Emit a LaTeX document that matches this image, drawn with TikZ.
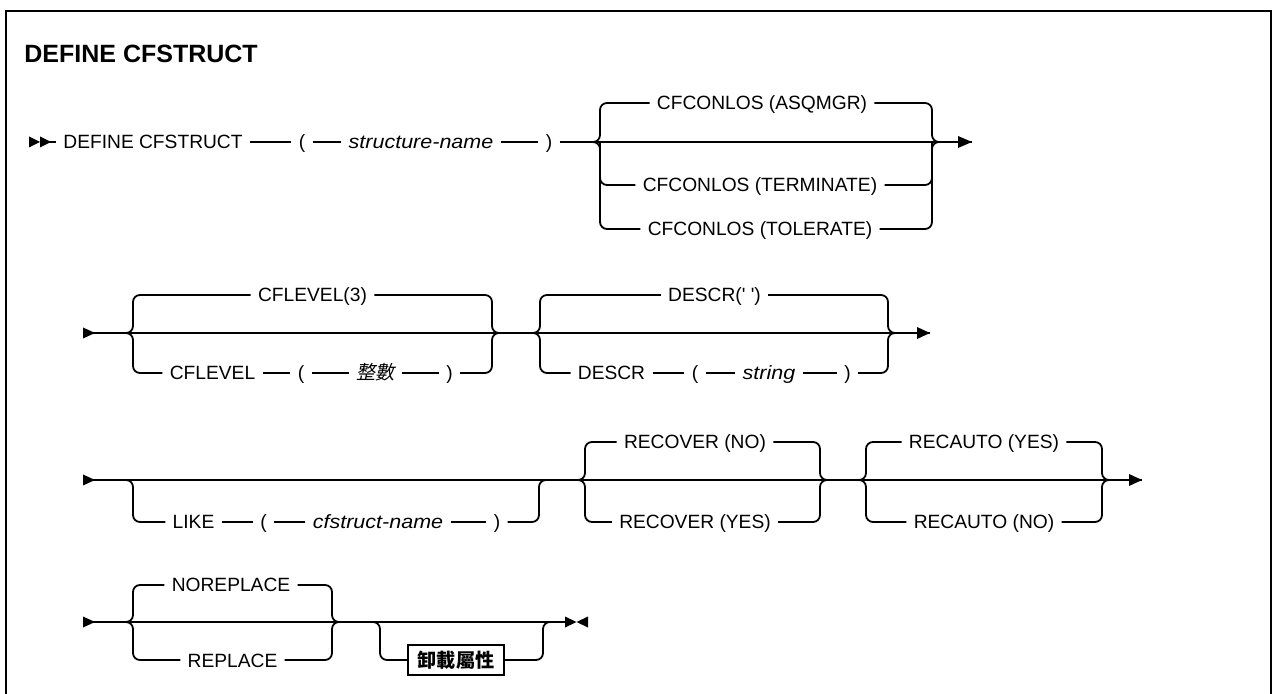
\documentclass[tikz,border=0pt]{standalone}
\usepackage{fontspec}
\setmainfont{Liberation Sans}
\newfontfamily\synfamily{Liberation Sans}[ItalicFeatures={FakeStretch=1.12}]
\newfontfamily\cjkfamily{Noto Sans CJK TC}[AutoFakeSlant=0.2]
\newcommand\synfont{\synfamily\fontsize{9.6pt}{11pt}\selectfont}
\newcommand\cjksyn{\cjkfamily\fontsize{9.6pt}{11pt}\selectfont}
\newcommand\headfont{\synfamily\bfseries\fontsize{12.5pt}{15pt}\selectfont}
\tikzset{
  syn/.style={line width=0.9pt},
  kw/.style={font=\synfont, inner xsep=3.5pt, inner ysep=0pt, text height=7pt, text depth=0pt},
  var/.style={kw, font=\synfont\itshape},
  brace/.style={syn, rounded corners=3.5pt},
  boxed/.style={draw, line width=0.8pt, font=\cjksyn\bfseries, inner xsep=2pt, inner ysep=0pt,
    minimum width=48pt, minimum height=15pt}
}
\begin{document}
\begin{tikzpicture}[x=0.5pt,y=-0.5pt]
  \useasboundingbox (0,0) rectangle (1274,694);
  % Frame
  \draw[line width=1.2pt] (6,694) |- (1271,11) -- (1271,694);
  % Title
  \node[anchor=base west, font=\headfont, inner sep=0pt] (title) at (24,63) {DEFINE CFSTRUCT};

  % Row 1
  \coordinate (r1start) at (29,142);
  \coordinate (b1l) at (600,142);
  \coordinate (b1r) at (932,142);
  \coordinate (r1end) at (972,142);
  \node[kw] (r1def) at (153,142) {DEFINE CFSTRUCT};
  \node[kw] (r1lp) at (302,142) {(};
  \node[var] (r1name) at (421,142) {structure-name};
  \node[kw] (r1rp) at (549,142) {)};
  \node[kw] (asq) at (762,103) {CFCONLOS (ASQMGR)};
  \node[kw] (term) at (760,185) {CFCONLOS (TERMINATE)};
  \node[kw] (tol) at (760,229) {CFCONLOS (TOLERATE)};
  \fill (r1start) ++(0,-5.5) -- ++(11,5.5) -- ++(-11,5.5) -- cycle;
  \fill ([xshift=5.5pt]r1start) ++(0,-5.5) -- ++(11,5.5) -- ++(-11,5.5) -- cycle;
  \draw[syn] ([xshift=5.5pt]r1start) -- (r1def);
  \draw[syn] (r1def) -- (r1lp) -- (r1name) -- (r1rp) -- ([xshift=-3.5pt]b1l) -- ([xshift=3.5pt]b1r) -- (r1end);
  \draw[brace] (asq) -| (b1l) -- ++(-7,0);
  \draw[brace] (tol) -| (b1l) -- ++(-7,0);
  \draw[brace] (term) -| (b1l);
  \draw[brace] (asq) -| (b1r) -- ++(7,0);
  \draw[brace] (tol) -| (b1r) -- ++(7,0);
  \draw[brace] (term) -| (b1r);
  \fill (r1end) -- ++(-14,-6) -- ++(0,12) -- cycle;

  % Row 2
  \coordinate (r2start) at (83,333);
  \coordinate (b2l) at (133,333);
  \coordinate (b2r) at (492,333);
  \coordinate (b3l) at (540,333);
  \coordinate (b3r) at (888,333);
  \coordinate (r2end) at (930,333);
  \node[kw] (lev3) at (312.5,295) {CFLEVEL(3)};
  \node[kw] (levkw) at (212.5,373) {CFLEVEL};
  \node[kw] (levlp) at (301,373) {(};
  \node[kw, font=\cjksyn\itshape] (levint) at (375.5,373) {整數};
  \node[kw] (levrp) at (449.5,373) {)};
  \node[kw] (descr) at (714.5,295) {DESCR(' ')};
  \node[kw] (descrkw) at (611.5,373) {DESCR};
  \node[kw] (descrlp) at (695,373) {(};
  \node[var] (descrstr) at (769,373) {string};
  \node[kw] (descrrp) at (847.5,373) {)};
  \fill (r2start) ++(0,-5.5) -- ++(12,5.5) -- ++(-12,5.5) -- cycle;
  \draw[syn] (r2start) -- ([xshift=-3.5pt]b2l) -- ([xshift=3.5pt]b2r) -- ([xshift=-3.5pt]b3l) -- ([xshift=3.5pt]b3r) -- (r2end);
  \draw[brace] (lev3) -| (b2l) -- ++(-7,0);
  \draw[brace] (levkw) -| (b2l) -- ++(-7,0);
  \draw[brace] (lev3) -| (b2r) -- ++(7,0);
  \draw[brace] (levrp) -| (b2r) -- ++(7,0);
  \draw[syn] (levkw) -- (levlp) -- (levint) -- (levrp);
  \draw[brace] (descr) -| (b3l) -- ++(-7,0);
  \draw[brace] (descrkw) -| (b3l) -- ++(-7,0);
  \draw[brace] (descr) -| (b3r) -- ++(7,0);
  \draw[brace] (descrrp) -| (b3r) -- ++(7,0);
  \draw[syn] (descrkw) -- (descrlp) -- (descrstr) -- (descrrp);
  \fill (r2end) -- ++(-13,-6) -- ++(0,12) -- cycle;

  % Row 3
  \coordinate (r3start) at (83,480);
  \coordinate (k1l) at (133,480);
  \coordinate (k1r) at (539,480);
  \coordinate (b4l) at (585,480);
  \coordinate (b4r) at (820,480);
  \coordinate (b5l) at (866,480);
  \coordinate (b5r) at (1102,480);
  \coordinate (r3end) at (1142,480);
  \node[kw] (likekw) at (193.5,522) {LIKE};
  \node[kw] (likelp) at (263.5,522) {(};
  \node[var] (likename) at (378,522) {cfstruct-name};
  \node[kw] (likerp) at (497,522) {)};
  \node[kw] (recno) at (695,442) {RECOVER (NO)};
  \node[kw] (recyes) at (695,522) {RECOVER (YES)};
  \node[kw] (rayes) at (984,442) {RECAUTO (YES)};
  \node[kw] (rano) at (984,522) {RECAUTO (NO)};
  \fill (r3start) ++(0,-5.5) -- ++(12,5.5) -- ++(-12,5.5) -- cycle;
  \draw[syn] (r3start) -- ([xshift=-3.5pt]b4l) -- ([xshift=3.5pt]b4r) -- ([xshift=-3.5pt]b5l) -- ([xshift=3.5pt]b5r) -- (r3end);
  \draw[brace] (likekw) -| (k1l) -- ++(-7,0);
  \draw[brace] (likerp) -| (k1r) -- ++(7,0);
  \draw[syn] (likekw) -- (likelp) -- (likename) -- (likerp);
  \draw[brace] (recno) -| (b4l) -- ++(-7,0);
  \draw[brace] (recyes) -| (b4l) -- ++(-7,0);
  \draw[brace] (recno) -| (b4r) -- ++(7,0);
  \draw[brace] (recyes) -| (b4r) -- ++(7,0);
  \draw[brace] (rayes) -| (b5l) -- ++(-7,0);
  \draw[brace] (rano) -| (b5l) -- ++(-7,0);
  \draw[brace] (rayes) -| (b5r) -- ++(7,0);
  \draw[brace] (rano) -| (b5r) -- ++(7,0);
  \fill (r3end) -- ++(-13,-6) -- ++(0,12) -- cycle;

  % Row 4
  \coordinate (r4start) at (83,622);
  \coordinate (b6l) at (133,622);
  \coordinate (b6r) at (332,622);
  \coordinate (k2l) at (380,622);
  \coordinate (k2r) at (543,622);
  \coordinate (r4end) at (565,622);
  \node[kw] (norep) at (231,585) {NOREPLACE};
  \node[kw] (rep) at (232.5,660) {REPLACE};
  \node[boxed] (unload) at (456,660) {卸載屬性};
  \fill (r4start) ++(0,-5.5) -- ++(12,5.5) -- ++(-12,5.5) -- cycle;
  \draw[syn] (r4start) -- ([xshift=-3.5pt]b6l) -- ([xshift=3.5pt]b6r) -- (r4end);
  \draw[brace] (norep) -| (b6l) -- ++(-7,0);
  \draw[brace] (rep) -| (b6l) -- ++(-7,0);
  \draw[brace] (norep) -| (b6r) -- ++(7,0);
  \draw[brace] (rep) -| (b6r) -- ++(7,0);
  \draw[brace] (unload) -| (k2l) -- ++(-7,0);
  \draw[brace] (unload) -| (k2r) -- ++(7,0);
  % End mark
  \fill (r4end) ++(0,-5.5) -- ++(11.5,5.5) -- ++(-11.5,5.5) -- cycle;
  \fill ([xshift=11.5pt]r4end) ++(0,-5.5) -- ++(-11.5,5.5) -- ++(11.5,5.5) -- cycle;
\end{tikzpicture}
\end{document}
